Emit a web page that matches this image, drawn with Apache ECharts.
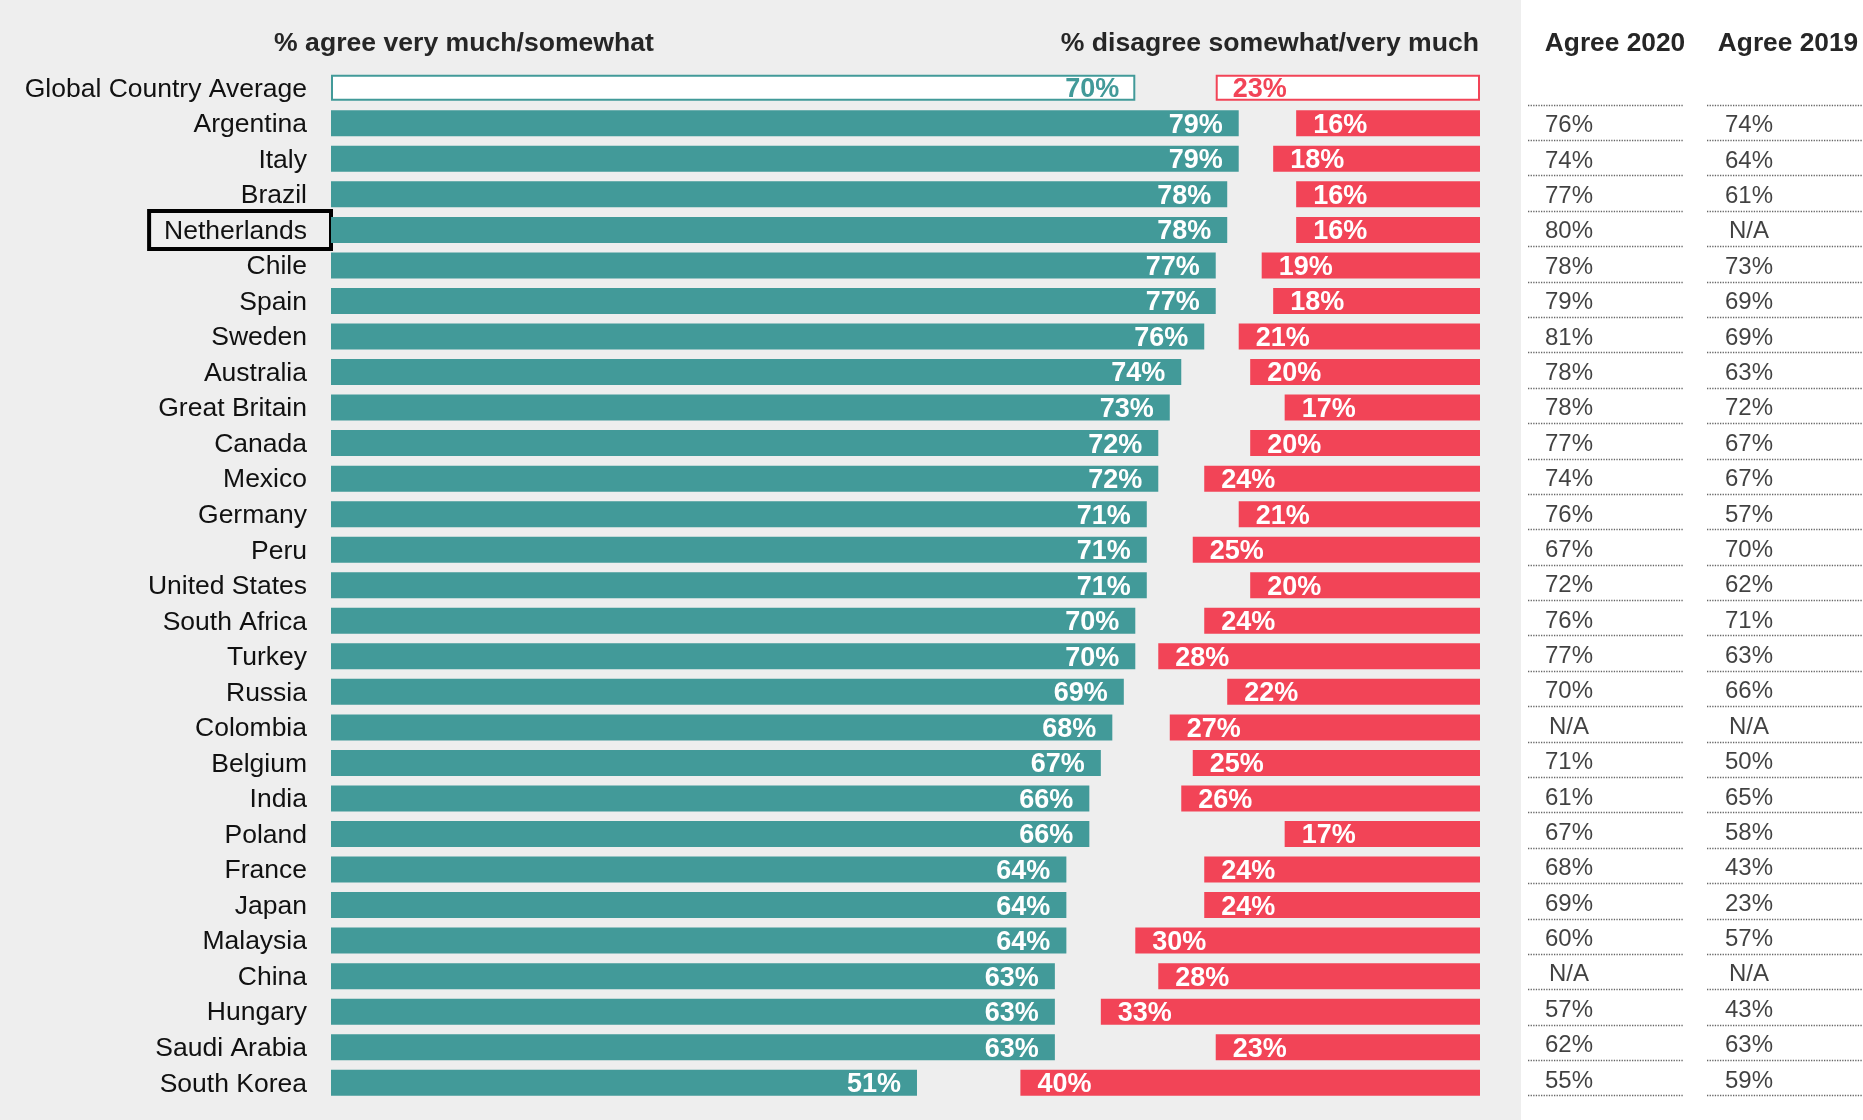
<!DOCTYPE html>
<html>
<head>
<meta charset="utf-8">
<script src="https://cdn.jsdelivr.net/npm/echarts@6/dist/echarts.min.js"></script>
<style>
html,body{margin:0;padding:0;background:#fff;}
#c{width:1863px;height:1120px;}
</style>
</head>
<body>
<div id="c"></div>
<script>
const categories = ['Global Country Average','Argentina','Italy','Brazil','Netherlands','Chile','Spain','Sweden','Australia','Great Britain','Canada','Mexico','Germany','Peru','United States','South Africa','Turkey','Russia','Colombia','Belgium','India','Poland','France','Japan','Malaysia','China','Hungary','Saudi Arabia','South Korea'];
const agree =    [70,79,79,78,78,77,77,76,74,73,72,72,71,71,71,70,70,69,68,67,66,66,64,64,64,63,63,63,51];
const disagree = [23,16,18,16,16,19,18,21,20,17,20,24,21,25,20,24,28,22,27,25,26,17,24,24,30,28,33,23,40];
// table columns (countries only, null = N/A)
const agree2020 = [76,74,77,80,78,79,81,78,78,77,74,76,67,72,76,77,70,null,71,61,67,68,69,60,null,57,62,55];
const agree2019 = [74,64,61,null,73,69,69,63,72,67,67,57,70,62,71,63,66,null,50,65,58,43,23,57,null,43,63,59];
const headerAgree = '% agree very much/somewhat';
const headerDisagree = '% disagree somewhat/very much';
const tableHeaders = ['Agree 2020','Agree 2019'];
const highlighted = 'Netherlands';

const TEAL = '#429a99';
const RED = '#f24457';
const FONT = '"Liberation Sans", Arial, sans-serif';

const countries = categories.slice(1);

function barData(vals, color){
  return vals.map((v,i)=> i===0 ? {
    value: v,
    itemStyle:{color:'#ffffff', borderColor: color, borderWidth: 2},
    label:{color: color}
  } : v);
}

const chart = echarts.init(document.getElementById('c'), null, {renderer:'canvas'});
const option = {
  backgroundColor: '#ffffff',
  animation: false,
  graphic: [
    {type:'rect', z:-10, shape:{x:0,y:0,width:1521,height:1120}, style:{fill:'#eeeeee'}, silent:true},
    {type:'text', style:{text: headerAgree, x:464, y:43.5, textAlign:'center', textVerticalAlign:'middle', font:'bold 26.6px ' + FONT, fill:'#262626'}},
    {type:'text', style:{text: headerDisagree, x:1479, y:43.5, textAlign:'right', textVerticalAlign:'middle', font:'bold 26.6px ' + FONT, fill:'#262626'}},
    {type:'text', style:{text: tableHeaders[0], x:1615, y:43.5, textAlign:'center', textVerticalAlign:'middle', font:'bold 26.3px ' + FONT, fill:'#262626'}},
    {type:'text', style:{text: tableHeaders[1], x:1788, y:43.5, textAlign:'center', textVerticalAlign:'middle', font:'bold 26.3px ' + FONT, fill:'#262626'}}
  ],
  grid: [
    {left:331, right:383, top:70, bottom:19.5},
    {left:1528, width:156, top:69.6, bottom:24.3},
    {left:1707, width:156, top:69.6, bottom:24.3}
  ],
  xAxis: [
    {type:'value', gridIndex:0, min:0, max:100, show:false},
    {type:'value', gridIndex:0, min:0, max:100, inverse:true, show:false},
    {type:'value', gridIndex:1, min:0, max:1, show:false},
    {type:'value', gridIndex:2, min:0, max:1, show:false}
  ],
  yAxis: [
    {
      type:'category', gridIndex:0, inverse:true, data: categories,
      axisLine:{show:false}, axisTick:{show:false}, splitLine:{show:false},
      axisLabel:{
        margin:0,
        formatter: v => v === highlighted ? '{box|' + v + '}' : '{n|' + v + '}',
        rich:{
          n:{fontFamily:FONT, fontSize:26.5, color:'#111', padding:[3,24,0,0]},
          box:{fontFamily:FONT, fontSize:26.5, color:'#111', padding:[7,24,4,15], borderColor:'#000', borderWidth:4, lineHeight:30}
        }
      }
    },
    {
      type:'category', gridIndex:1, inverse:true, data: categories,
      axisLine:{show:false}, axisTick:{show:false}, axisLabel:{show:false},
      splitLine:{show:true, showMinLine:false, lineStyle:{type:'dotted', color:'#666', width:1.3}}
    },
    {
      type:'category', gridIndex:2, inverse:true, data: categories,
      axisLine:{show:false}, axisTick:{show:false}, axisLabel:{show:false},
      splitLine:{show:true, showMinLine:false, lineStyle:{type:'dotted', color:'#666', width:1.3}}
    }
  ],
  series: [
    {
      type:'bar', xAxisIndex:0, yAxisIndex:0, data: barData(agree, TEAL),
      barWidth:26, barGap:'-100%', itemStyle:{color:TEAL},
      label:{show:true, position:'insideRight', distance:16, offset:[0,2], formatter:'{c}%', color:'#fff', fontFamily:FONT, fontWeight:'bold', fontSize:27},
      silent:true
    },
    {
      type:'bar', xAxisIndex:1, yAxisIndex:0, data: barData(disagree, RED),
      barWidth:26, barGap:'-100%', itemStyle:{color:RED},
      label:{show:true, position:'insideLeft', distance:17, offset:[0,2], formatter:'{c}%', color:'#fff', fontFamily:FONT, fontWeight:'bold', fontSize:27},
      silent:true
    },
    {
      type:'scatter', xAxisIndex:2, yAxisIndex:1, symbolSize:0, silent:true,
      data: countries.map((c,i)=>[0, c, agree2020[i]]),
      label:{show:true, position:'inside', offset:[41,3], align:'center', verticalAlign:'middle', color:'#111', fontFamily:FONT, fontSize:24,
        formatter: p => p.value[2] == null ? 'N/A' : p.value[2] + '%'}
    },
    {
      type:'scatter', xAxisIndex:3, yAxisIndex:2, symbolSize:0, silent:true,
      data: countries.map((c,i)=>[0, c, agree2019[i]]),
      label:{show:true, position:'inside', offset:[42,3], align:'center', verticalAlign:'middle', color:'#111', fontFamily:FONT, fontSize:24,
        formatter: p => p.value[2] == null ? 'N/A' : p.value[2] + '%'}
    }
  ]
};
chart.setOption(option);
</script>
</body>
</html>
